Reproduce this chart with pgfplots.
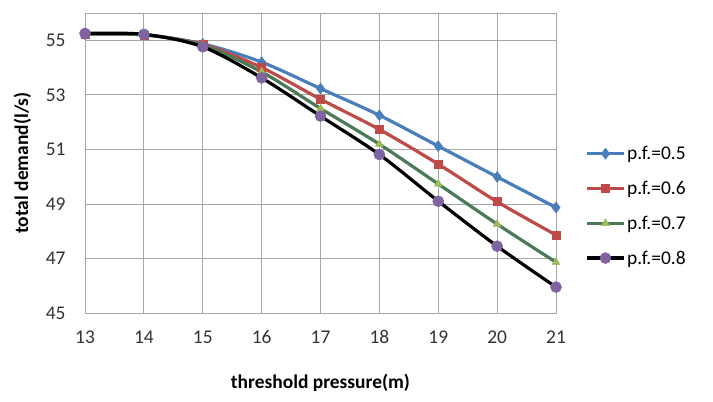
\documentclass[border=0pt]{standalone}
\usepackage{pgfplots}
\pgfplotsset{compat=1.18}
\usepackage{fontspec}
\setmainfont{Carlito}
\definecolor{cblue}{HTML}{4A7EBB}
\definecolor{cred}{HTML}{BE4B48}
\definecolor{cgreenl}{HTML}{4A7A58}
\definecolor{cgreenm}{HTML}{9BBB59}
\definecolor{cpurple}{HTML}{8064A2}
\definecolor{gridc}{HTML}{A6A6A6}
\begin{document}
\begin{tikzpicture}
\begin{axis}[
  name=ax,
  scale only axis,
  width=471bp, height=300bp,
  xmin=13, xmax=21, ymin=45, ymax=56,
  xtick={13,...,21},
  ytick={45,47,...,55},
  grid=major,
  major grid style={gridc, line width=0.8bp},
  axis line style={gridc, line width=0.8bp},
  major tick length=0pt,
  /pgf/number format/assume math mode=true,
  ticklabel style={font=\fontsize{19.5}{22}\selectfont, text=black!80},
  yticklabel style={xshift=-16bp},
  xticklabel style={yshift=-14bp},
  xlabel={\bfseries threshold pressure(m)},
  ylabel={\bfseries total demand(l/s)},
  label style={font=\fontsize{19.5}{22}\selectfont},
  xlabel style={yshift=-23bp},
  ylabel style={yshift=8bp},
  legend style={draw=none, fill=none, at={(1.063,0.563)}, anchor=north west,
    font=\fontsize{19.5}{22}\selectfont, row sep=16bp, inner sep=0pt,
    cells={anchor=west}},
  legend image code/.code={\draw[mark repeat=2,mark phase=2,#1] plot coordinates {(0bp,0bp)(18bp,0bp)(36bp,0bp)};},
  every axis plot/.append style={line width=3.2bp, smooth, tension=0.5},
]
\addplot[cblue, mark=diamond*, mark size=5.5bp, mark options={fill=cblue, line width=0.5bp}] coordinates {
(13,55.22)(14,55.2)(15,54.87)(16,54.2)(17,53.23)(18,52.25)(19,51.12)(20,49.99)(21,48.87)};
\addlegendentry{p.f.=0.5}
\addplot[cred, mark=square*, mark size=4bp, mark options={fill=cred, line width=0.5bp}] coordinates {
(13,55.22)(14,55.2)(15,54.85)(16,54.0)(17,52.84)(18,51.73)(19,50.46)(20,49.08)(21,47.86)};
\addlegendentry{p.f.=0.6}
\addplot[cgreenl, mark=triangle*, mark size=4.5bp, mark options={fill=cgreenm, draw=cgreenm, line width=0.5bp}] coordinates {
(13,55.22)(14,55.2)(15,54.82)(16,53.84)(17,52.5)(18,51.19)(19,49.73)(20,48.26)(21,46.86)};
\addlegendentry{p.f.=0.7}
\addplot[black, mark=*, mark size=5.5bp, mark options={fill=cpurple, draw=cpurple, line width=0.5bp}] coordinates {
(13,55.25)(14,55.22)(15,54.76)(16,53.62)(17,52.22)(18,50.81)(19,49.1)(20,47.45)(21,45.95)};
\addlegendentry{p.f.=0.8}
\end{axis}
\path[use as bounding box] ([xshift=-85bp,yshift=-89bp]ax.south west) rectangle ([xshift=157bp,yshift=13bp]ax.north east);
\end{tikzpicture}
\end{document}
